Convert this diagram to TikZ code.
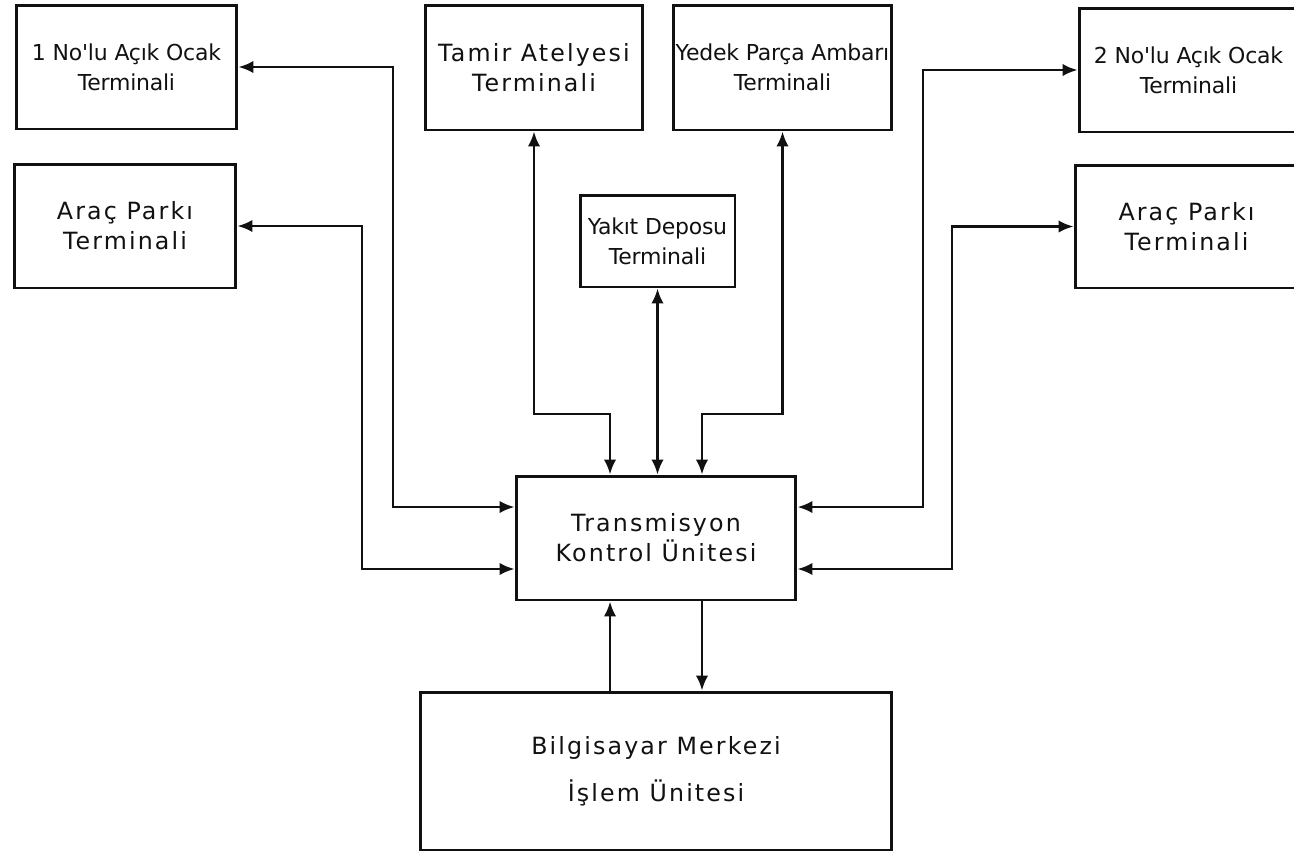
\documentclass[tikz,border=0pt]{standalone}
\usepackage{fontspec}
\usetikzlibrary{arrows.meta}
\newfontfamily\lettering[LetterSpace=9]{DejaVu Sans}
\newfontfamily\narrowlettering[LetterSpace=-1]{DejaVu Sans}
\definecolor{scanink}{HTML}{111111}

\begin{document}
\begin{tikzpicture}[
  x=0.02cm,
  y=-0.02cm,
  every node/.style={font=\lettering\fontsize{13.5}{17}\selectfont, scanink},
  narrowtext/.style={font=\narrowlettering\fontsize{12.5}{17}\selectfont},
  unit/.style={draw=scanink, line width=1.7pt, align=center, inner sep=0pt},
  link/.style={scanink, line width=1.5pt, -{Latex[length=3mm,width=2.5mm]}},
  both/.style={scanink, line width=1.5pt,
               {Latex[length=3mm,width=2.5mm]}-{Latex[length=3mm,width=2.5mm]}}
]
  \useasboundingbox (0,0) rectangle (1294,853);

  %% ---- terminaller ------------------------------------------------------
  \node[unit, narrowtext, minimum width=4.42cm, minimum height=2.48cm] (ocakA)
    at (126.5,67) {1 No'lu Açık Ocak\\Terminali};
  \node[unit, minimum width=4.44cm, minimum height=2.48cm] (parkA) at (125,226)
    {Araç Parkı\\Terminali};
  \node[unit, minimum width=4.36cm, minimum height=2.50cm] (tamir) at (534,67.5)
    {Tamir Atelyesi\\Terminali};
  \node[unit, narrowtext, minimum width=4.38cm, minimum height=2.50cm] (yedek)
    at (782.5,67.5) {Yedek Parça Ambarı\\Terminali};
  \node[unit, narrowtext, minimum width=3.10cm, minimum height=1.84cm] (yakit)
    at (657.5,241) {Yakıt Deposu\\Terminali};
  \node[unit, narrowtext, minimum width=4.38cm, minimum height=2.48cm] (ocakB)
    at (1188.5,70) {2 No'lu Açık Ocak\\Terminali};
  \node[unit, minimum width=4.46cm, minimum height=2.46cm] (parkB) at (1186.5,226.5)
    {Araç Parkı\\Terminali};

  %% ---- merkez birimler --------------------------------------------------
  \node[unit, minimum width=5.60cm, minimum height=2.48cm] (tku) at (656,538)
    {Transmisyon\\Kontrol Ünitesi};
  \node[unit, minimum width=9.42cm, minimum height=3.16cm] (bmiu) at (656,771)
    {Bilgisayar Merkezi\\[0.35cm]İşlem Ünitesi};

  %% ---- sol hatlar -------------------------------------------------------
  \draw[both] (ocakA.east) -- (393,67) |- ([yshift=0.62cm]tku.west);
  \draw[both] (parkA.east) -- (362,226) |- ([yshift=-0.62cm]tku.west);

  %% ---- ust hatlar -------------------------------------------------------
  \draw[both] (tamir.south) -- (534,414) -| ([xshift=-0.92cm]tku.north);
  \draw[both] (yakit.south) -- (yakit.south |- tku.north);
  \draw[both] (yedek.south) -- (782.5,414) -| ([xshift=0.92cm]tku.north);

  %% ---- sag hatlar -------------------------------------------------------
  \draw[both] (ocakB.west) -- (923,70) |- ([yshift=0.62cm]tku.east);
  \draw[both] (parkB.west) -- (952,226.5) |- ([yshift=-0.62cm]tku.east);

  %% ---- bilgisayar merkezi baglantisi ------------------------------------
  \draw[link] ([xshift=-0.92cm]bmiu.north) -- ([xshift=-0.92cm]tku.south);
  \draw[link] ([xshift=0.92cm]tku.south) -- ([xshift=0.92cm]bmiu.north);
\end{tikzpicture}
\end{document}
